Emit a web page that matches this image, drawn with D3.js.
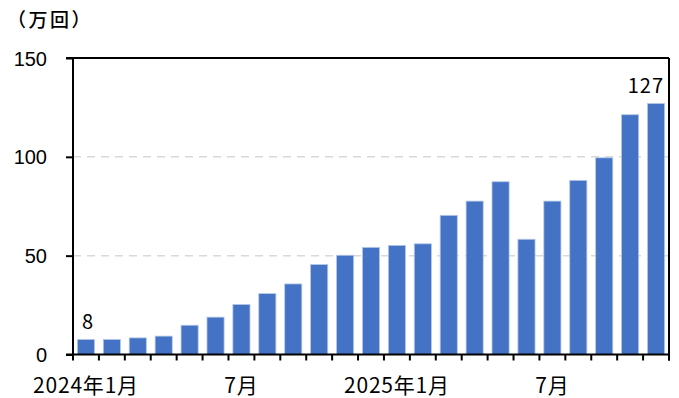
<!DOCTYPE html>
<html><head><meta charset="utf-8">
<script src="https://cdn.jsdelivr.net/npm/d3@7"></script>
<style>
html,body{margin:0;padding:0;background:#fff;}
svg{display:block;}
</style></head>
<body>
<svg id="chart" width="679" height="398"></svg>
<script>
// ---- data ----
const months = ["2024-01","2024-02","2024-03","2024-04","2024-05","2024-06","2024-07","2024-08","2024-09","2024-10","2024-11","2024-12",
                "2025-01","2025-02","2025-03","2025-04","2025-05","2025-06","2025-07","2025-08","2025-09","2025-10","2025-11"];
const values = [7.6, 7.6, 8.4, 9.3, 14.8, 18.9, 25.3, 30.8, 35.7, 45.5, 50.2, 54.2,
                55.2, 56.0, 70.4, 77.6, 87.4, 58.3, 77.6, 88.1, 99.5, 121.3, 127.0];
const tickLabels = {"2024-01":"2024年1月","2024-07":"7月","2025-01":"2025年1月","2025-07":"7月"};
const yTicks = [0, 50, 100, 150];
const labelledMonths = ["2024-01","2025-11"];
const unitLabel = "（万回）";

// ---- layout ----
const svg = d3.select("#chart");
const pL = 73, pR = 669, pT = 58, pB = 354.5;
const x = d3.scaleBand().domain(months).range([pL, pR]).paddingInner(0.34).paddingOuter(0.17);
const y = d3.scaleLinear().domain([0, 150]).range([pB, pT]);
const step = x.step();

// gridlines
svg.append("g").selectAll("line").data(yTicks.filter(d => d > 0 && d < 150)).join("line")
  .attr("x1", pL).attr("x2", pR).attr("y1", d => y(d)).attr("y2", d => y(d))
  .attr("stroke", "#d9d9d9").attr("stroke-width", 1.5).attr("stroke-dasharray", "8,6");

// bars
svg.append("g").selectAll("rect").data(months).join("rect")
  .attr("x", d => x(d)).attr("width", x.bandwidth())
  .attr("y", (d, i) => y(values[i])).attr("height", (d, i) => pB - y(values[i]))
  .attr("fill", "#4472c4").attr("stroke", "#b4c7e7").attr("stroke-width", 0.8);

// frame: top, left, right
const frame = svg.append("g").attr("stroke", "#000").attr("stroke-width", 2).attr("fill", "none");
frame.append("line").attr("x1", pL).attr("x2", pL).attr("y1", y(150)).attr("y2", pB);
frame.append("line").attr("x1", pL - 7).attr("x2", pR).attr("y1", y(150)).attr("y2", y(150));
frame.append("line").attr("x1", pR).attr("x2", pR).attr("y1", y(150)).attr("y2", pB + 6);

// y axis
const yAxis = d3.axisLeft(y).tickValues(yTicks).tickSize(7).tickPadding(19);
const gy = svg.append("g").attr("transform", `translate(${pL},0)`).call(yAxis);
gy.select(".domain").remove();
gy.selectAll(".tick line").attr("stroke", "#000").attr("stroke-width", 2);
gy.selectAll(".tick text").attr("font-family", "'Liberation Sans', Arial, sans-serif")
  .attr("font-size", 20).attr("fill", "#000").attr("dy", "0.35em");

// x axis line + boundary ticks
const bounds = months.map(m => x(m) - step * x.paddingInner() / 2).concat([pR]);
const gx = svg.append("g");
gx.append("line").attr("x1", pL - 7).attr("x2", pR).attr("y1", pB).attr("y2", pB)
  .attr("stroke", "#000").attr("stroke-width", 2);
gx.selectAll("line.b").data(bounds).join("line").attr("class", "b")
  .attr("x1", d => d).attr("x2", d => d).attr("y1", pB).attr("y2", pB + 6)
  .attr("stroke", "#000").attr("stroke-width", 2);
gx.selectAll("text").data(months.filter(m => tickLabels[m])).join("text")
  .attr("x", d => x(d) + x.bandwidth() / 2).attr("y", 393)
  .attr("text-anchor", "middle")
  .attr("font-family", "'Noto Sans CJK JP', sans-serif").attr("font-size", 21)
  .attr("letter-spacing", 0.8).attr("fill", "#000")
  .text(d => tickLabels[d]);

// data labels
svg.append("g").selectAll("text").data(labelledMonths).join("text")
  .attr("x", d => Math.min(x(d) + x.bandwidth() / 2 + 17, pR - 5))
  .attr("y", d => y(values[months.indexOf(d)]) - 10)
  .attr("text-anchor", "end")
  .attr("font-family", "'Noto Sans CJK JP', sans-serif").attr("font-size", 20)
  .attr("letter-spacing", 1).attr("fill", "#000")
  .text(d => Math.round(values[months.indexOf(d)]))
  .each(function(d) {
    if (d === months[0]) d3.select(this).attr("text-anchor", "middle").attr("x", x(d) + x.bandwidth() / 2 + 2);
  });

// unit label
svg.append("text").attr("x", 7).attr("y", 27)
  .attr("font-family", "'Noto Sans CJK JP', sans-serif").attr("font-size", 19).attr("font-weight", 500)
  .attr("letter-spacing", 2.5).attr("fill", "#000")
  .text(unitLabel);
</script>
</body></html>
